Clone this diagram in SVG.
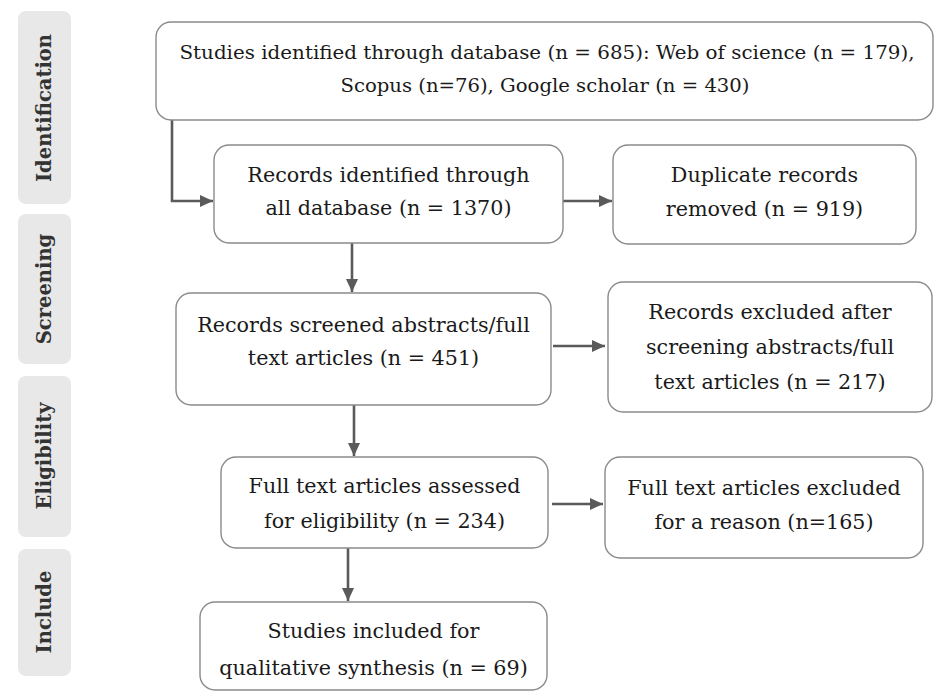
<svg xmlns="http://www.w3.org/2000/svg" width="934" height="691" viewBox="0 0 934 691">
<defs>
<style>
.box{fill:#ffffff;stroke:#8a8a8a;stroke-width:1.4}
.lbl{fill:#e8e8e8}
.t{font-family:"DejaVu Serif","Liberation Serif",serif;font-size:20.7px;fill:#1a1a1a;text-anchor:middle}
.tt{font-size:19px}
.side{font-family:"DejaVu Serif","Liberation Serif",serif;font-size:19.5px;font-weight:bold;fill:#333;text-anchor:middle}
.c{fill:none;stroke:#5a5a5a;stroke-width:2.6}
</style>
<marker id="arr" markerUnits="userSpaceOnUse" markerWidth="14" markerHeight="12" refX="13" refY="6" orient="auto">
<path d="M0,0 L13,6 L0,12 z" fill="#5a5a5a"/>
</marker>
</defs>
<rect width="934" height="691" fill="#ffffff"/>
<g id="stage-labels">
<g id="lbl-identification"><rect class="lbl" x="18" y="11" width="53" height="193" rx="8"/><text class="side" transform="translate(51,108) rotate(-90)">Identification</text></g>
<g id="lbl-screening"><rect class="lbl" x="18" y="214" width="53" height="150" rx="8"/><text class="side" transform="translate(51,289) rotate(-90)">Screening</text></g>
<g id="lbl-eligibility"><rect class="lbl" x="18" y="376" width="53" height="161" rx="8"/><text class="side" transform="translate(51,456) rotate(-90)">Eligibility</text></g>
<g id="lbl-include"><rect class="lbl" x="18" y="549" width="53" height="127" rx="8"/><text class="side" transform="translate(51,612) rotate(-90)">Include</text></g>
</g>
<g id="connectors">
<path class="c" d="M172,120 V201 H213" marker-end="url(#arr)"/>
<path class="c" d="M563,201 H612" marker-end="url(#arr)"/>
<path class="c" d="M352,243 V292" marker-end="url(#arr)"/>
<path class="c" d="M553,346 H605" marker-end="url(#arr)"/>
<path class="c" d="M354,405 V456" marker-end="url(#arr)"/>
<path class="c" d="M552,504 H603" marker-end="url(#arr)"/>
<path class="c" d="M348,548 V601" marker-end="url(#arr)"/>
</g>
<g id="n-studies-identified">
<rect class="box" x="156" y="22" width="777" height="98" rx="15"/>
<text class="t tt" x="547" y="59" textLength="735" lengthAdjust="spacingAndGlyphs">Studies identified through database (n = 685): Web of science (n = 179),</text>
<text class="t tt" x="545" y="92" textLength="409" lengthAdjust="spacingAndGlyphs">Scopus (n=76), Google scholar (n = 430)</text>
</g>
<g id="n-records-identified">
<rect class="box" x="214" y="145" width="349" height="98" rx="15"/>
<text class="t" x="388.5" y="182">Records identified through</text>
<text class="t" x="388.5" y="215">all database (n = 1370)</text>
</g>
<g id="n-duplicates">
<rect class="box" x="613" y="145" width="303" height="99" rx="15"/>
<text class="t" x="764.5" y="182">Duplicate records</text>
<text class="t" x="764.5" y="216">removed (n = 919)</text>
</g>
<g id="n-records-screened">
<rect class="box" x="176" y="293" width="375" height="112" rx="15"/>
<text class="t" x="363.5" y="332">Records screened abstracts/full</text>
<text class="t" x="363.5" y="365">text articles (n = 451)</text>
</g>
<g id="n-records-excluded">
<rect class="box" x="608" y="282" width="324" height="130" rx="15"/>
<text class="t" x="770" y="319">Records excluded after</text>
<text class="t" x="770" y="354">screening abstracts/full</text>
<text class="t" x="770" y="389">text articles (n = 217)</text>
</g>
<g id="n-fulltext-assessed">
<rect class="box" x="221" y="457" width="327" height="91" rx="15"/>
<text class="t" x="384.5" y="493">Full text articles assessed</text>
<text class="t" x="384.5" y="528">for eligibility (n = 234)</text>
</g>
<g id="n-fulltext-excluded">
<rect class="box" x="605" y="457" width="318" height="101" rx="15"/>
<text class="t" x="764" y="495">Full text articles excluded</text>
<text class="t" x="764" y="529">for a reason (n=165)</text>
</g>
<g id="n-studies-included">
<rect class="box" x="200" y="602" width="347" height="88" rx="15"/>
<text class="t" x="373.5" y="638">Studies included for</text>
<text class="t" x="373.5" y="675">qualitative synthesis (n = 69)</text>
</g>
</svg>
